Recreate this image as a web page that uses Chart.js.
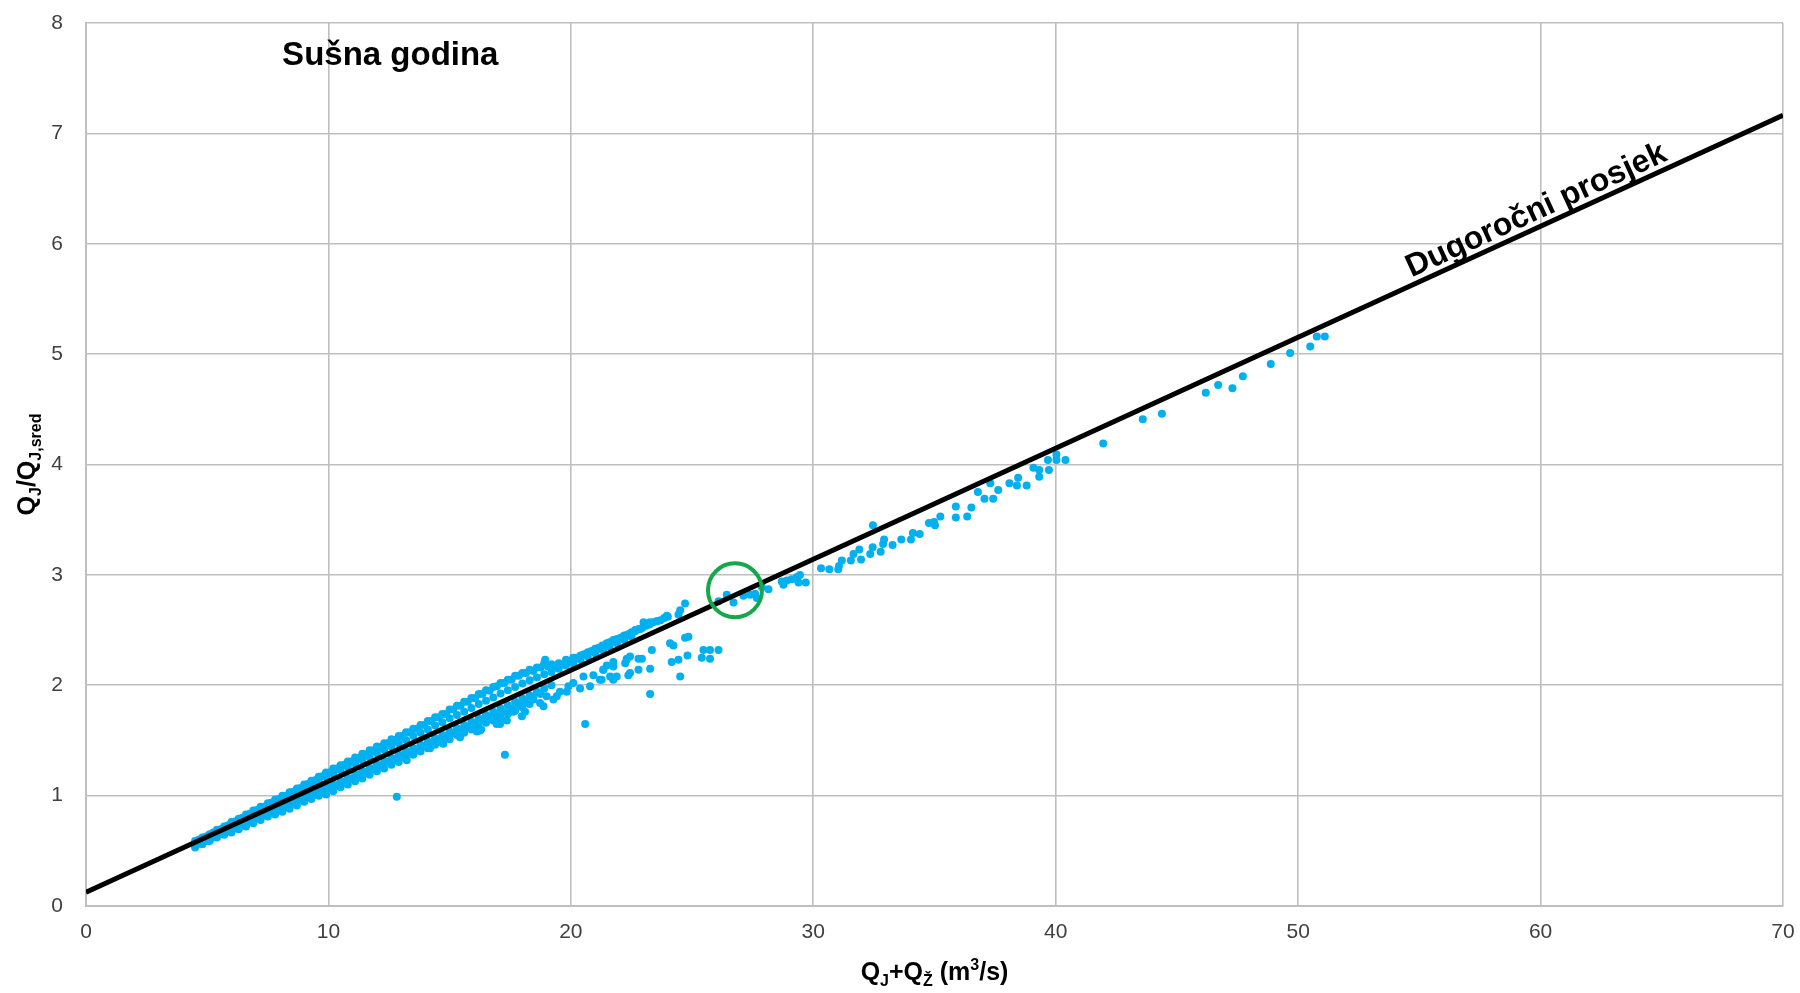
<!DOCTYPE html>
<html>
<head>
<meta charset="utf-8">
<script src="https://cdn.jsdelivr.net/npm/chart.js@4.4.1/dist/chart.umd.min.js"></script>
<style>
  html, body { margin: 0; padding: 0; background: #fff; }
  #wrap { width: 1800px; height: 993px; }
</style>
</head>
<body>
<div id="wrap"><canvas id="chart" width="1800" height="993"></canvas></div>
<script>
// Axis ranges and ticks
const xTicks = [0, 10, 20, 30, 40, 50, 60, 70];
const yTicks = [0, 1, 2, 3, 4, 5, 6, 7, 8];

// Long-term average line (Dugoročni prosjek)
const averageX = [0, 70];
const averageY = [0.124, 7.165];

// Highlighted point (green circle)
const markedX = [26.77];
const markedY = [2.86];

// Texts
const panelTitle = 'Sušna godina';
const panelTitleAt = [8.09, 7.62];
const averageLabel = 'Dugoročni prosjek';
const averageLabelStartX = 54.8;

const dryYearPoints = [
  [4.5,0.59],[4.5,0.55],[4.5,0.53],[4.8,0.62],[4.8,0.58],[4.8,0.56],
  [5.1,0.65],[5.1,0.61],[5.1,0.59],[5.4,0.69],[5.4,0.64],[5.4,0.62],
  [5.7,0.72],[5.7,0.67],[5.7,0.645],[6.0,0.76],[6.0,0.70],[6.0,0.665],
  [6.3,0.79],[6.3,0.73],[6.3,0.695],[6.6,0.83],[6.6,0.76],[6.6,0.72],
  [6.9,0.865],[6.9,0.79],[6.9,0.75],[7.2,0.90],[7.2,0.815],[7.2,0.78],
  [7.5,0.93],[7.5,0.845],[7.5,0.81],[7.8,0.965],[7.8,0.87],[7.8,0.83],
  [8.1,1.0],[8.1,0.90],[8.1,0.855],[8.4,1.03],[8.4,0.93],[8.4,0.88],
  [8.7,1.065],[8.7,0.96],[8.7,0.91],
  [9.0,1.10],[9.0,1.08],[9.0,0.99],[9.0,0.945],
  [9.3,1.135],[9.3,1.11],[9.3,1.02],[9.3,0.97],
  [9.6,1.17],[9.6,1.14],[9.6,1.05],[9.6,1.0],
  [9.9,1.21],[9.9,1.17],[9.9,1.08],[9.9,1.01],
  [10.2,1.245],[10.2,1.20],[10.2,1.10],[10.2,1.04],
  [10.5,1.275],[10.5,1.23],[10.5,1.13],[10.5,1.075],
  [10.8,1.31],[10.8,1.26],[10.8,1.16],[10.8,1.10],
  [11.1,1.345],[11.1,1.29],[11.1,1.19],[11.1,1.13],
  [11.4,1.38],[11.4,1.32],[11.4,1.22],[11.4,1.155],
  [11.7,1.41],[11.7,1.35],[11.7,1.25],[11.7,1.19],
  [12.0,1.445],[12.0,1.385],[12.0,1.28],[12.0,1.22],
  [12.3,1.475],[12.3,1.415],[12.3,1.31],[12.3,1.245],
  [12.6,1.51],[12.6,1.445],[12.6,1.34],[12.6,1.28],
  [12.9,1.54],[12.9,1.475],[12.9,1.37],[12.9,1.305],
  [13.2,1.575],[13.2,1.505],[13.2,1.40],[13.2,1.335],
  [13.5,1.605],[13.5,1.54],[13.5,1.43],[13.5,1.37],
  [13.8,1.64],[13.8,1.57],[13.8,1.46],[13.8,1.40],
  [14.1,1.675],[14.1,1.60],[14.1,1.49],[14.1,1.43],
  [14.4,1.71],[14.4,1.635],[14.4,1.52],[14.4,1.46],
  [14.7,1.74],[14.7,1.665],[14.7,1.55],[14.7,1.48],
  [15.0,1.78],[15.0,1.70],[15.0,1.58],[15.0,1.51],
  [15.3,1.815],[15.3,1.73],[15.3,1.61],[15.3,1.55],
  [15.6,1.85],[15.6,1.76],[15.6,1.64],[15.6,1.57],
  [15.9,1.885],[15.9,1.795],[15.9,1.67],[15.9,1.60],
  [16.2,1.92],[16.2,1.83],[16.2,1.70],[16.2,1.62],
  [16.5,1.955],[16.5,1.86],[16.5,1.73],[16.5,1.66],
  [16.8,1.985],[16.8,1.89],[16.8,1.76],[16.8,1.68],
  [17.1,2.02],[17.1,1.925],[17.1,1.79],[17.1,1.71],
  [17.4,2.05],[17.4,1.955],[17.4,1.82],[17.4,1.74],
  [17.7,2.085],[17.7,1.985],[17.7,1.85],[17.7,1.77],
  [18.0,2.11],[18.0,2.015],[18.0,1.88],[18.0,1.80],
  [18.3,2.14],[18.3,2.045],[18.3,1.91],[18.3,1.83],
  [18.6,2.16],[18.6,2.07],[18.6,1.94],
  [18.9,2.20],[18.9,2.10],[18.9,1.97],
  [19.2,2.19],[19.2,2.12],[19.2,2.00],
  [19.5,2.20],[19.5,2.15],[19.8,2.23],[19.8,2.18],
  [20.1,2.25],[20.1,2.20],[20.4,2.27],[20.4,2.23],
  [20.7,2.30],[20.7,2.26],[21.0,2.33],[21.0,2.29],
  [21.3,2.36],[21.3,2.32],[21.6,2.39],[21.6,2.35],
  [21.9,2.42],[21.9,2.38],[22.2,2.45],[22.2,2.41],
  [22.5,2.48],[22.5,2.44],[22.8,2.51],[23.1,2.54],
  [23.4,2.57],[23.7,2.59],[24.0,2.62],
  // in-between points of the dense band
  [4.65,0.60],[4.65,0.565],[4.95,0.63],[4.95,0.59],[5.25,0.665],[5.25,0.62],
  [5.55,0.695],[5.55,0.65],[5.85,0.73],[5.85,0.675],[6.15,0.765],[6.15,0.705],
  [6.45,0.80],[6.45,0.73],[6.75,0.835],[6.75,0.76],[7.05,0.87],[7.05,0.79],
  [7.35,0.90],[7.35,0.82],[7.65,0.935],[7.65,0.845],[7.95,0.97],[7.95,0.875],
  [8.25,1.0],[8.25,0.90],[8.55,1.035],[8.55,0.93],[8.85,1.07],[8.85,0.955],
  [9.15,1.105],[9.15,0.985],[9.45,1.14],[9.45,1.01],[9.75,1.175],[9.75,1.04],
  [10.05,1.21],[10.05,1.07],[10.35,1.245],[10.35,1.095],[10.65,1.28],[10.65,1.125],
  [10.95,1.31],[10.95,1.155],[11.25,1.34],[11.25,1.185],[11.55,1.375],[11.55,1.215],
  [11.85,1.41],[11.85,1.245],[12.15,1.44],[12.15,1.275],[12.45,1.475],[12.45,1.305],
  [12.75,1.505],[12.75,1.335],[13.05,1.54],[13.05,1.365],[13.35,1.575],[13.35,1.39],
  [13.65,1.605],[13.65,1.42],[13.95,1.64],[13.95,1.45],[14.25,1.675],[14.25,1.48],
  [14.55,1.71],[14.55,1.51],[14.85,1.74],[14.85,1.54],[15.15,1.78],[15.15,1.565],
  [15.45,1.815],[15.45,1.595],[15.75,1.85],[15.75,1.62],[16.05,1.885],[16.05,1.65],
  [16.35,1.92],[16.35,1.68],[16.65,1.95],[16.65,1.70],[16.95,1.99],[16.95,1.73],
  [17.25,2.02],[17.25,1.76],[17.55,2.05],[17.55,1.79],[17.85,2.085],[17.85,1.82],
  [18.15,2.11],[18.15,1.85],[18.45,2.13],[18.45,1.89],[18.75,2.16],[18.75,1.92],
  [19.05,2.17],[19.35,2.16],[19.65,2.19],[19.95,2.22],[20.25,2.25],[20.55,2.28],
  [20.85,2.31],[21.15,2.34],[21.45,2.37],[21.75,2.40],[22.05,2.43],[22.35,2.46],
  [22.65,2.49],[22.95,2.52],[23.25,2.55],[23.55,2.58],[23.85,2.61],
  // scattered points below the band
  [12.82,0.99],[13.23,1.32],[14.19,1.43],[14.74,1.47],[15.43,1.53],[16.12,1.58],
  [16.3,1.60],[16.6,1.71],[16.94,1.65],[17.36,1.68],[17.98,1.72],[17.28,1.37],
  [15.29,1.59],[16.25,1.59],[17.08,1.65],[16.94,1.71],[17.63,1.76],[17.9,1.81],
  [18.11,1.76],[18.45,1.87],[18.73,1.84],[18.87,1.81],[19.0,1.90],[19.28,1.87],
  [19.42,1.90],[19.55,1.94],[19.83,1.94],[19.9,1.99],[20.1,2.02],[20.38,1.97],
  [20.52,2.08],[20.79,1.99],[20.93,2.09],[21.2,2.05],[21.34,2.14],[21.75,2.17],
  [21.89,2.08],[22.3,2.23],[22.37,2.09],[22.44,2.26],[20.59,1.65],[18.94,2.23],
  [21.27,2.05],[21.34,2.14],[21.48,2.18],[21.62,2.08],[21.75,2.05],[21.75,2.21],
  [22.24,2.20],[22.31,2.24],[22.44,2.11],[22.79,2.14],[22.79,2.24],[22.93,2.24],
  [23.27,2.15],[23.34,2.32],[23.27,1.92],[24.09,2.38],[24.23,2.36],[24.16,2.21],
  [24.44,2.23],[24.51,2.08],[24.71,2.43],[24.81,2.27],[24.85,2.44],[25.4,2.25],
  [25.47,2.32],[25.74,2.32],[25.74,2.24],[26.09,2.32],
  // upper edge of the band, 21-25
  [21.34,2.33],[21.48,2.38],[21.75,2.41],[22.17,2.44],[22.38,2.46],[22.65,2.50],
  [22.86,2.51],[23.0,2.57],[23.27,2.57],[23.55,2.58],[23.96,2.63],[24.44,2.64],
  [24.51,2.68],[24.71,2.74],
  // around the green circle and beyond
  [26.09,2.76],[26.43,2.82],[26.71,2.75],[27.12,2.81],[27.4,2.82],[27.6,2.83],
  [27.67,2.79],[27.88,2.89],[28.15,2.87],[28.7,2.94],[28.77,2.91],[28.91,2.95],
  [29.11,2.96],[29.32,2.98],[29.45,3.0],[29.39,2.93],[29.69,2.93],
  [30.32,3.06],[30.66,3.05],[31.03,3.05],[31.06,3.08],[31.18,3.13],[31.55,3.13],
  [31.66,3.19],[31.9,3.23],[31.97,3.14],[32.35,3.19],[32.45,3.25],[32.46,3.45],
  [32.78,3.21],[32.88,3.28],[32.92,3.32],[33.27,3.27],[33.63,3.32],[34.03,3.32],
  [34.11,3.38],[34.39,3.37],[34.77,3.47],[34.98,3.48],[35.02,3.45],[35.24,3.53],
  [35.88,3.62],[35.88,3.52],[36.35,3.53],[36.52,3.61],[36.79,3.75],[37.06,3.69],
  [37.3,3.83],[37.42,3.69],[37.63,3.77],[38.09,3.83],[38.4,3.81],[38.45,3.88],
  [38.8,3.81],[39.08,3.97],[39.32,3.95],[39.32,3.89],[39.72,3.95],[39.68,4.04],
  [40.03,4.09],[40.03,4.04],[40.4,4.04],[41.96,4.19],[43.59,4.41],[44.38,4.46],
  [46.19,4.65],[46.7,4.72],[47.29,4.69],[47.72,4.80],[48.87,4.91],[49.67,5.01],
  [50.5,5.07],[50.77,5.16],[51.1,5.16]
];

const FONT = '"Liberation Sans", Arial, sans-serif';

// draws a bold title made of normal / subscript / superscript pieces, centered on (0, 0)
function drawRichText(ctx, runs) {
  const big = 25, small = 16;
  const parts = runs.map(([text, kind]) => {
    ctx.font = 'bold ' + (kind === 'n' ? big : small) + 'px ' + FONT;
    return { text, kind, w: ctx.measureText(text).width };
  });
  const total = parts.reduce((s, p) => s + p.w, 0);
  let px = -total / 2;
  parts.forEach(p => {
    ctx.font = 'bold ' + (p.kind === 'n' ? big : small) + 'px ' + FONT;
    const dy = p.kind === 'sub' ? 6 : (p.kind === 'sup' ? -10 : 0);
    ctx.fillText(p.text, px, dy);
    px += p.w;
  });
}

const textPlugin = {
  id: 'chartTexts',
  afterDatasetsDraw(chart) {
    const { ctx, chartArea, scales: { x, y } } = chart;
    ctx.save();
    ctx.fillStyle = '#000';
    ctx.textBaseline = 'alphabetic';
    ctx.textAlign = 'left';

    // panel title
    ctx.font = 'bold 33px ' + FONT;
    ctx.fillText(panelTitle, x.getPixelForValue(panelTitleAt[0]), y.getPixelForValue(panelTitleAt[1]));

    // label along the average line
    ctx.font = 'bold 32px ' + FONT;
    const x0 = x.getPixelForValue(averageX[0]), y0 = y.getPixelForValue(averageY[0]);
    const x1 = x.getPixelForValue(averageX[1]), y1 = y.getPixelForValue(averageY[1]);
    const angle = Math.atan2(y1 - y0, x1 - x0);
    const t = (averageLabelStartX - averageX[0]) / (averageX[1] - averageX[0]);
    const lx = x0 + (x1 - x0) * t, ly = y0 + (y1 - y0) * t;
    ctx.save();
    ctx.translate(lx, ly);
    ctx.rotate(angle);
    ctx.fillText(averageLabel, 0, -7);
    ctx.restore();

    // x axis title
    ctx.save();
    ctx.translate((chartArea.left + chartArea.right) / 2, 980);
    drawRichText(ctx, [['Q', 'n'], ['J', 'sub'], ['+Q', 'n'], ['Ž', 'sub'], [' (m', 'n'], ['3', 'sup'], ['/s)', 'n']]);
    ctx.restore();

    // y axis title
    ctx.save();
    ctx.translate(35, (chartArea.top + chartArea.bottom) / 2);
    ctx.rotate(-Math.PI / 2);
    drawRichText(ctx, [['Q', 'n'], ['J', 'sub'], ['/Q', 'n'], ['J,sred', 'sub']]);
    ctx.restore();

    ctx.restore();
  }
};

const gridColor = '#BFBFBF';

new Chart(document.getElementById('chart'), {
  type: 'scatter',
  data: {
    datasets: [
      {
        label: 'Dugoročni prosjek',
        type: 'line',
        data: averageX.map((v, i) => ({ x: v, y: averageY[i] })),
        borderColor: '#000',
        borderWidth: 5,
        pointRadius: 0,
        fill: false,
        order: 1
      },
      {
        label: 'Sušna godina',
        data: dryYearPoints.map(p => ({ x: p[0], y: p[1] })),
        backgroundColor: '#00B0F0',
        borderWidth: 0,
        pointRadius: 4,
        order: 2
      },
      {
        label: 'marked',
        data: markedX.map((v, i) => ({ x: v, y: markedY[i] })),
        backgroundColor: 'rgba(0,0,0,0)',
        borderColor: '#14A84A',
        borderWidth: 4,
        pointRadius: 27,
        order: 0
      }
    ]
  },
  options: {
    responsive: false,
    animation: false,
    // the big green ring would otherwise push the plot area inwards
    layout: { autoPadding: false, padding: { left: 0, right: 17, top: 23, bottom: 0 } },
    plugins: {
      legend: { display: false },
      tooltip: { enabled: false }
    },
    scales: {
      x: {
        type: 'linear',
        min: xTicks[0],
        max: xTicks[xTicks.length - 1],
        afterBuildTicks: s => { s.ticks = xTicks.map(v => ({ value: v })); },
        afterFit: s => { s.height = 87; },
        ticks: { color: '#404040', font: { family: FONT, size: 21 }, padding: 0, maxRotation: 0 },
        grid: { color: gridColor, lineWidth: 1.6, drawTicks: true, tickLength: 14, tickColor: 'rgba(0,0,0,0)' },
        border: { color: gridColor, width: 2 }
      },
      y: {
        type: 'linear',
        min: yTicks[0],
        max: yTicks[yTicks.length - 1],
        afterBuildTicks: s => { s.ticks = yTicks.map(v => ({ value: v })); },
        afterFit: s => { s.width = 86; },
        ticks: { color: '#404040', font: { family: FONT, size: 21 }, padding: 0 },
        grid: { color: gridColor, lineWidth: 1.6, drawTicks: true, tickLength: 23, tickColor: 'rgba(0,0,0,0)' },
        border: { color: gridColor, width: 2 }
      }
    }
  },
  plugins: [textPlugin]
});
</script>
</body>
</html>
